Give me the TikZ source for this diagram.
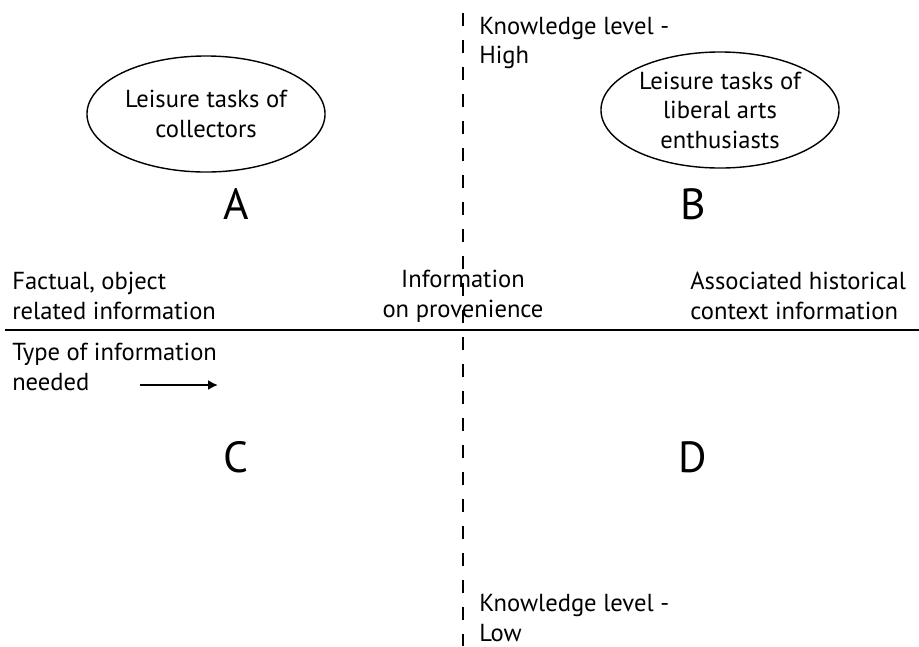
\documentclass[tikz,border=0pt]{standalone}
\usepackage{fontspec}
\setmainfont{PT Sans}
\usetikzlibrary{positioning,shapes.geometric,arrows.meta}

\begin{document}
\begin{tikzpicture}[x=0.025cm ,y=-0.025cm ,-{Latex[length=7pt,width=7pt]} ,
task/.style ={ellipse ,draw ,line width=1pt ,minimum width=5.95cm ,
minimum height=2.9cm ,inner sep=0pt ,align=center ,
font=\fontsize{17.5}{21}\selectfont },
lbl/.style ={inner sep=0pt ,font=\fontsize{17.5}{21}\selectfont },
quad/.style ={inner sep=0pt ,font=\fontsize{31}{36}\selectfont }]
\useasboundingbox (0,0) rectangle (919,646);
% axes
\coordinate (axisL) at (5,330);
\coordinate (axisR) at (919,330);
\coordinate (kTop) at (463,13);
\coordinate (kBot) at (463,646);
\draw[-,line width=1.8pt] (axisL) -- (axisR);
\draw[-,line width=1pt,dash pattern=on 9.2pt off 10pt] (kTop) -- (kBot);
% quadrants
\node[quad] (A) at (236,204) {A};
\node[quad] (B) at (693,204) {B};
\node[quad] (C) at (236,457) {C};
\node[quad] (D) at (693,457) {D};
\node[task] (taskA) at (206,114) {Leisure tasks of\\collectors};
\node[task] (taskB) at (720,110) {Leisure tasks of\\liberal arts\\enthusiasts};
% knowledge level
\node[lbl,align=left,anchor=west] (kHigh) at (479,43) {Knowledge level -\\High};
\node[lbl,align=left,anchor=west] (kLow) at (479,618) {Knowledge level -\\Low};
% type of information
\node[lbl,align=left,anchor=west] (factual) at (12,296) {Factual, object\\related information};
\node[lbl,align=center] (prov) at (463,296) {Information\\on provenience};
\node[lbl,align=left,anchor=west] (context) at (690,296) {Associated historical\\context information};
\node[lbl,align=left,anchor=west] (needed) at (12,367) {Type of information\\needed};
\coordinate (arrS) at (140,385);
\coordinate (arrE) at (218,385);
\draw[line width=2pt] (arrS) -- (arrE);
\end{tikzpicture}
\end{document}
